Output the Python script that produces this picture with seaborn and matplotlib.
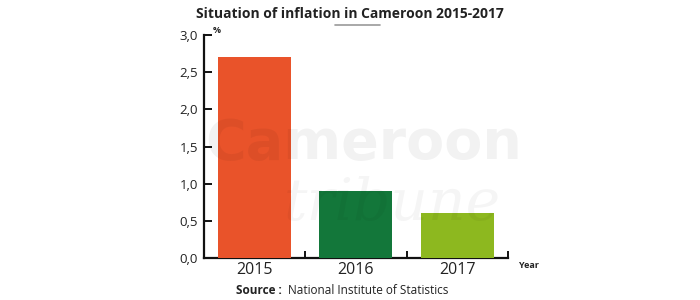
import matplotlib
matplotlib.use("Agg")
import matplotlib.pyplot as plt
import seaborn as sns
import pandas as pd
from matplotlib.ticker import FixedLocator, FuncFormatter

years = ["2015", "2016", "2017"]
inflation = [2.7, 0.9, 0.6]
colors = ["#E9532A", "#13773A", "#8DB81F"]
yticks = [0.0, 0.5, 1.0, 1.5, 2.0, 2.5, 3.0]

sns.set_theme(style="white")
plt.rcParams['font.family'] = ['Open Sans', 'DejaVu Sans']

df = pd.DataFrame({"Year": years, "Inflation": inflation})

fig = plt.figure(figsize=(7, 3), dpi=100)
ax = fig.add_axes([0.291, 0.14, 0.435, 0.743])

# faint watermark
fig.text(0.52, 0.52, "Cameroon", ha="center", va="center", fontsize=40,
         fontweight="bold", color="#000000", alpha=0.05, family="DejaVu Sans")
fig.text(0.56, 0.32, "tribune", ha="center", va="center", fontsize=42,
         style="italic", color="#000000", alpha=0.04, family="DejaVu Serif")

sns.barplot(data=df, x="Year", y="Inflation", hue="Year", palette=colors,
            width=0.72, legend=False, ax=ax, saturation=1, zorder=3,
            linewidth=0)

ax.set_xlim(-0.5, 2.5)
ax.set_ylim(0, 3.0)
ax.set_yticks(yticks)
ax.yaxis.set_major_formatter(FuncFormatter(lambda v, p: f"{v:.1f}".replace(".", ",")))
ax.set_xlabel("")
ax.set_ylabel("")
for s in ["top", "right"]:
    ax.spines[s].set_visible(False)
for s in ["left", "bottom"]:
    ax.spines[s].set_color("#111111")
    ax.spines[s].set_linewidth(1.6)

ax.tick_params(axis="y", direction="in", length=6, width=1.4, color="#111111",
               labelsize=9.5, labelcolor="#222222", left=True, pad=4)
ax.tick_params(axis="x", which="major", length=0, labelsize=11.5,
               labelcolor="#222222", pad=3)
ax.xaxis.set_minor_locator(FixedLocator([0.5, 1.5, 2.5]))
ax.tick_params(axis="x", which="minor", direction="in", length=5, width=1.4,
               color="#111111", bottom=True)

ax.text(0.03, 1.0, "%", transform=ax.transAxes, fontsize=6.5, fontweight="bold",
        va="bottom", ha="left", color="#222222")
ax.text(1.035, -0.015, "Year", transform=ax.transAxes, fontsize=6.5,
        fontweight="bold", va="top", ha="left", color="#222222")

fig.text(0.5, 0.955, "Situation of inflation in Cameroon 2015-2017", ha="center",
         va="center", fontsize=10, fontweight="bold", color="#222222")
fig.add_artist(plt.Line2D([0.478, 0.543], [0.918, 0.918], color="#999999", lw=1.2))

fig.text(0.337, 0.033, "Source :", ha="left", va="center", fontsize=8.5,
         fontweight="bold", color="#222222")
fig.text(0.411, 0.033, "National Institute of Statistics", ha="left",
         va="center", fontsize=8.5, color="#222222")

fig.savefig("out.png", dpi=100, facecolor="white")
